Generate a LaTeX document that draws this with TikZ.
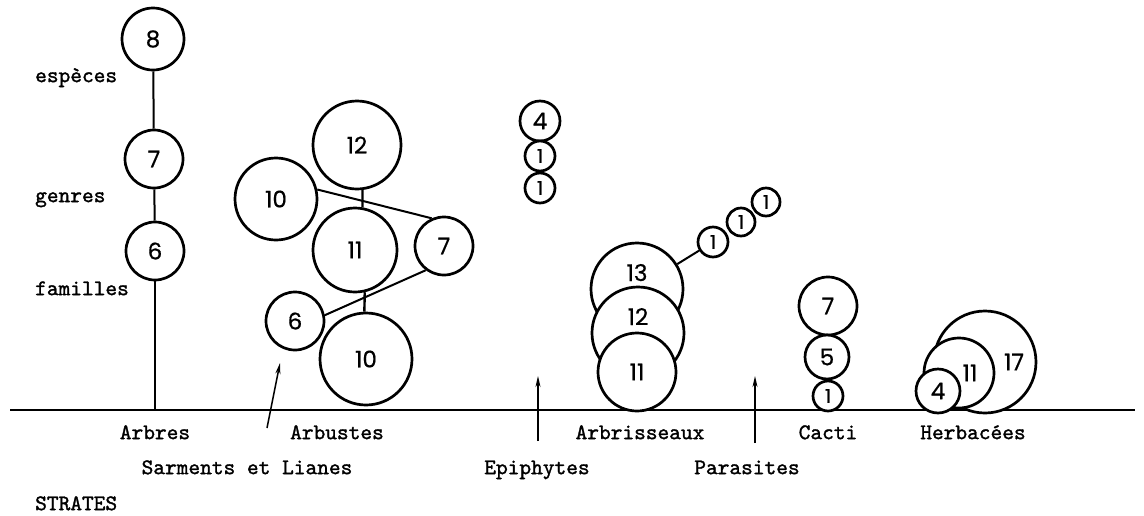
\documentclass[tikz,border=0pt]{standalone}
\usepackage{fontspec}
\newfontfamily\numfont{Poppins}[FakeBold=0.6]
\newfontfamily\labfont{lmmono10-regular.otf}[FakeBold=1.4]
\usetikzlibrary{arrows.meta}
\begin{document}
\begin{tikzpicture}[x=1pt,y=-1pt,
  num/.style={circle,draw,line width=2.7pt,fill=white,inner sep=0pt,
    minimum size=2*#1 pt,font=\numfont\fontsize{23}{23}\selectfont},
  snum/.style={num=#1,font=\numfont\fontsize{19}{19}\selectfont},
  lab/.style={font=\labfont\fontsize{22.3}{26}\selectfont,inner sep=0pt},
  conn/.style={line width=2pt},
  arr/.style={line width=1.5pt,-{Stealth[length=11pt,width=5pt]}}]
\useasboundingbox (0,0) rectangle (1144,515);
% baseline
\coordinate (bl) at (10,410);
\coordinate (br) at (1135,410);
\draw[line width=2.2pt] (bl) -- (br);
% left labels
\node[lab,anchor=mid west] (esp) at (35,80) {espèces};
\node[lab,anchor=mid west] (gen) at (35,200) {genres};
\node[lab,anchor=mid west] (fam) at (35,293) {familles};
% Arbres
\node[num=31] (a8) at (153,39) {8};
\node[num=29] (a7) at (154,159) {7};
\node[num=29] (a6) at (155,251) {6};
\coordinate (abase) at (155,410);
\draw[conn] (a8) -- (a7);
\draw[conn] (a7) -- (a6);
\draw[line width=2.6pt] (a6) -- (abase);
% Arbustes
\node[num=44] (b12) at (357,145) {12};
\node[num=41] (b10a) at (276,199) {10};
\node[num=42] (b11) at (355,250) {11};
\node[num=29] (b7) at (444,246) {7};
\node[num=29] (b6) at (295,321) {6};
\node[num=46] (b10b) at (366,359) {10};
\draw[line width=2.4pt] (b12.-83) -- (b11.80);
\draw[line width=2.4pt] (b11.-77) -- (b10b.92);
\draw[conn] (b10a.13) -- (b7.114);
\draw[conn] (b6.11) -- (b7.233);
% Epiphytes
\node[num=20] (e4) at (540,121) {4};
\node[snum=15] (e1a) at (540,156) {1};
\node[snum=15] (e1b) at (540,188) {1};
% Arbrisseaux
\node[num=46] (r13) at (637,289) {\raisebox{8pt}[0pt][0pt]{13}};
\node[num=46] (r12) at (638,333) {\raisebox{8pt}[0pt][0pt]{12}};
\node[num=39] (r11) at (637,372) {11};
\node[snum=15] (s1) at (713,242) {1};
\node[snum=14] (s2) at (741,222) {1};
\node[snum=14] (s3) at (766,202) {1};
\draw[conn] (r13) -- (s1);
% Cacti
\node[num=29] (c7) at (828,306) {7};
\node[num=22] (c5) at (827,357) {5};
\node[snum=15] (c1) at (828,396) {1};
% Herbacees
\node[num=51] (h17) at (985,362) {\hspace*{58pt}17};
\node[num=35] (h11) at (959,373) {\hspace*{22pt}11};
\node[num=22] (h4) at (938,391) {4};
% arrows
\coordinate (sa0) at (267,428);
\coordinate (sa1) at (280,363);
\draw[arr] (sa0) -- (sa1);
\coordinate (ep0) at (538,441);
\coordinate (ep1) at (538,376);
\draw[arr] (ep0) -- (ep1);
\coordinate (pa0) at (755,443);
\coordinate (pa1) at (755,376);
\draw[arr] (pa0) -- (pa1);
% strata labels
\node[lab,anchor=mid] (tArb) at (155,437) {Arbres};
\node[lab,anchor=mid] (tArbu) at (337,437) {Arbustes};
\node[lab,anchor=mid] (tArbri) at (640,437) {Arbrisseaux};
\node[lab,anchor=mid] (tCac) at (828,437) {Cacti};
\node[lab,anchor=mid] (tHer) at (973,437) {Herbacées};
\node[lab,anchor=mid] (tSar) at (247,472) {Sarments et Lianes};
\node[lab,anchor=mid] (tEpi) at (537,472) {Epiphytes};
\node[lab,anchor=mid] (tPar) at (747,472) {Parasites};
\node[lab,anchor=mid west] (tStr) at (35,508) {STRATES};
\end{tikzpicture}
\end{document}
